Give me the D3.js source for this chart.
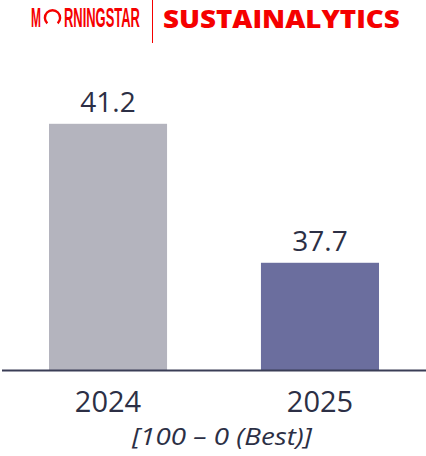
<!DOCTYPE html>
<html>
<head>
<meta charset="utf-8">
<script src="https://cdn.jsdelivr.net/npm/d3@7"></script>
<style>
  html, body { margin: 0; padding: 0; background: #ffffff; }
  svg { display: block; }
</style>
</head>
<body>
<svg id="chart" width="426" height="456"></svg>
<script>
// ESG risk score by year (lower is better)
const years = ["2024", "2025"];
const scores = [41.2, 37.7];
const barColors = ["#b4b4be", "#6b6e9e"];
const scaleNote = "[100 \u2013 0 (Best)]";
const brandLeft = "RNINGSTAR";
const brandRight = "SUSTAINALYTICS";

const W = 426, H = 456;
const svg = d3.select("#chart");
const textColor = "#2c2f45";
const red = "#f50000";

// ---- brand header ----
const header = svg.append("g");
const narrow = "'Liberation Sans Narrow', 'Liberation Sans', sans-serif";

// squeeze a text horizontally so it spans the given width
function fitText(sel, x0, width) {
  const w = sel.node().getComputedTextLength();
  sel.attr("transform", `translate(${x0},0) scale(${width / w},1)`);
  return sel;
}

fitText(header.append("text")
  .attr("x", 0).attr("y", 27.5)
  .attr("font-family", narrow)
  .attr("font-weight", 700)
  .attr("font-size", 27)
  .attr("fill", red)
  .text("M"), 31, 10);
// the "O" drawn as an arc open at the bottom
header.append("path")
  .attr("d", d3.arc()({ innerRadius: 6.4, outerRadius: 8.8, startAngle: -0.76 * Math.PI, endAngle: 0.76 * Math.PI }))
  .attr("transform", "translate(52.5,17.8)")
  .attr("fill", red);
fitText(header.append("text")
  .attr("x", 0).attr("y", 27.5)
  .attr("font-family", narrow)
  .attr("font-weight", 700)
  .attr("font-size", 27)
  .attr("fill", red)
  .text(brandLeft), 64, 76);
header.append("line")
  .attr("x1", 152.5).attr("x2", 152.5)
  .attr("y1", 0).attr("y2", 43)
  .attr("stroke", red).attr("stroke-width", 1);
fitText(header.append("text")
  .attr("x", 0).attr("y", 28)
  .attr("font-family", "'Open Sans', sans-serif")
  .attr("font-weight", 800)
  .attr("font-size", 25)
  .attr("fill", red)
  .text(brandRight), 163, 237);

// ---- scales ----
const x = d3.scaleBand()
  .domain(years)
  .range([2, W])
  .paddingInner(0.443)
  .paddingOuter(0.2217);

const y = d3.scaleLinear()
  .domain([35, 42])
  .range([370, 370 - 7 * 39.71]);

const data = years.map((yr, i) => ({ year: yr, value: scores[i], color: barColors[i] }));

// ---- bars ----
svg.append("g").selectAll("rect")
  .data(data)
  .join("rect")
  .attr("x", d => x(d.year))
  .attr("width", x.bandwidth())
  .attr("y", d => y(d.value))
  .attr("height", d => y(35) - y(d.value))
  .attr("fill", d => d.color);

// ---- value labels ----
svg.append("g").selectAll("text")
  .data(data)
  .join("text")
  .attr("x", d => x(d.year) + x.bandwidth() / 2)
  .attr("y", d => y(d.value) - 12)
  .attr("text-anchor", "middle")
  .attr("font-family", "'Open Sans', sans-serif")
  .attr("font-size", 28)
  .attr("fill", textColor)
  .text(d => d.value.toFixed(1));

// ---- baseline axis ----
const xAxis = d3.axisBottom(x).tickSize(0).tickPadding(0);
const axisG = svg.append("g")
  .attr("transform", `translate(0,${y(35)})`)
  .call(xAxis);
axisG.select(".domain")
  .attr("d", `M2,0.5H${W}`)
  .attr("stroke", "#3a3d56")
  .attr("stroke-width", 2);
axisG.selectAll(".tick text")
  .attr("dy", 0)
  .attr("y", 42)
  .attr("font-family", "'Open Sans', sans-serif")
  .attr("font-size", 29)
  .attr("fill", textColor);

// ---- scale note ----
const note = svg.append("text")
  .attr("x", 0).attr("y", 445)
  .attr("font-family", "'Open Sans', sans-serif")
  .attr("font-style", "italic")
  .attr("font-size", 23)
  .attr("fill", textColor)
  .text(scaleNote);
fitText(note, 132, 180);
</script>
</body>
</html>
